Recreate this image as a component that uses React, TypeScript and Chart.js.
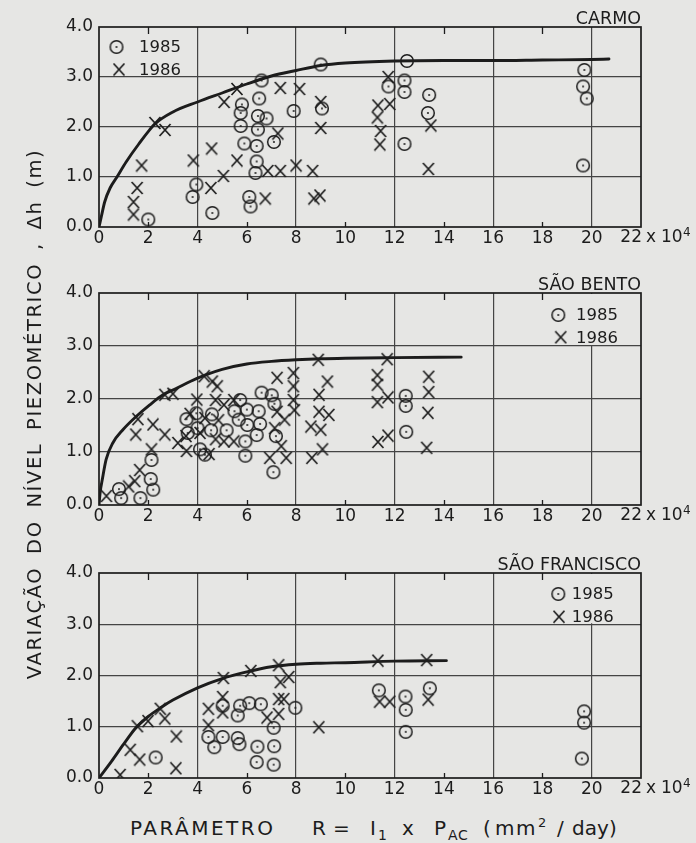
import React, { useEffect, useRef } from 'react';
import { Chart, registerables } from 'chart.js';

Chart.register(...registerables);

type Pt = [number, number];

// ---------- tick labels ----------
const X_TICK_LABELS = ['0', '2', '4', '6', '8', '10', '12', '14', '16', '18', '20', '22'];
const Y_TICK_LABELS = ['0.0', '1.0', '2.0', '3.0', '4.0'];
const X_MINOR_TICKS = [2, 6, 10, 14, 18];
const X_GRID_VALUES = [4, 8, 12, 16, 20];
const SERIES_NAMES = ['1985', '1986'];
const PANEL_TITLES = ['CARMO', 'SÃO BENTO', 'SÃO FRANCISCO'];

// ---------- CARMO ----------
const carmo1985: Pt[] = [
  [2.0, 0.15], [3.8, 0.6], [3.95, 0.85], [4.6, 0.28], [5.8, 2.45], [5.75, 2.28], [5.75, 2.02],
  [5.9, 1.67], [6.6, 2.93], [6.5, 2.57], [6.45, 2.22], [6.8, 2.17], [6.45, 1.95], [6.4, 1.62],
  [6.4, 1.31], [6.35, 1.08], [7.1, 1.7], [7.9, 2.32], [6.1, 0.6], [6.15, 0.41], [9.0, 3.25],
  [9.05, 2.37], [12.5, 3.32], [12.4, 2.93], [11.75, 2.81], [12.4, 2.7], [13.4, 2.64],
  [13.35, 2.28], [12.4, 1.66], [19.7, 3.14], [19.65, 2.81], [19.8, 2.57], [19.65, 1.23],
];
const carmo1986: Pt[] = [
  [1.4, 0.25], [1.4, 0.5], [1.55, 0.78], [1.73, 1.23], [2.27, 2.08], [2.68, 1.94], [3.83, 1.33],
  [4.57, 1.57], [4.54, 0.78], [5.05, 1.02], [5.08, 2.5], [5.6, 2.76], [5.6, 1.33], [7.36, 2.78],
  [8.14, 2.76], [7.26, 1.87], [6.75, 0.57], [6.85, 1.12], [7.36, 1.12], [8.0, 1.23], [8.67, 1.12],
  [8.72, 0.57], [8.97, 0.63], [9.0, 2.5], [9.0, 1.98], [11.74, 3.0], [11.8, 2.46], [11.32, 2.43],
  [11.3, 2.19], [11.43, 1.92], [11.4, 1.65], [13.47, 2.03], [13.37, 1.16],
];
const carmoCurve: Pt[] = [
  [0, 0], [0.1, 0.22], [0.23, 0.5], [0.45, 0.78], [0.73, 1.0], [1.1, 1.3], [1.6, 1.65],
  [2.27, 2.06], [3, 2.3], [4, 2.5], [5, 2.68], [6, 2.86], [7, 3.02], [8, 3.13], [9, 3.23],
  [10, 3.28], [12, 3.32], [14, 3.33], [16, 3.33], [18, 3.34], [20, 3.35], [20.7, 3.36],
];

// ---------- SÃO BENTO ----------
const bento1985: Pt[] = [
  [0.81, 0.3], [0.9, 0.13], [1.68, 0.13], [2.1, 0.49], [2.2, 0.29], [2.13, 0.85], [3.55, 1.62],
  [3.6, 1.36], [3.95, 1.73], [4.0, 1.45], [4.1, 1.05], [4.3, 0.95], [4.58, 1.71], [4.55, 1.41],
  [5.18, 1.41], [5.5, 1.77], [5.73, 1.98], [5.67, 1.61], [6.0, 1.8], [6.02, 1.51], [5.94, 1.2],
  [5.94, 0.93], [6.48, 1.77], [6.4, 1.32], [6.6, 2.12], [6.54, 1.53], [7.01, 2.07], [7.12, 1.91],
  [7.18, 1.3], [7.08, 0.62], [12.45, 2.06], [12.45, 1.87], [12.47, 1.38],
];
const bento1986: Pt[] = [
  [0.3, 0.17], [1.2, 0.35], [1.45, 0.45], [1.65, 0.66], [2.13, 1.05], [1.58, 1.62], [1.49, 1.33],
  [2.19, 1.52], [2.67, 1.33], [2.67, 2.08], [3.0, 2.1], [3.2, 1.17], [3.55, 1.02], [3.7, 1.72],
  [3.97, 1.99], [3.53, 1.3], [4.27, 2.43], [4.6, 2.33], [4.8, 2.24], [4.73, 1.98], [5.07, 1.89],
  [5.47, 1.98], [4.1, 1.36], [4.47, 0.96], [4.73, 1.24], [5.07, 1.2], [5.47, 1.2], [4.3, 1.64],
  [4.85, 1.6], [7.23, 2.4], [7.89, 2.49], [7.89, 2.24], [7.89, 1.98], [7.93, 1.79], [7.53, 1.61],
  [7.23, 1.76], [7.13, 1.45], [7.4, 1.11], [6.93, 0.89], [7.6, 0.89], [8.9, 2.74], [9.27, 2.33],
  [8.93, 2.08], [8.93, 1.76], [9.33, 1.7], [8.6, 1.48], [9.0, 1.42], [9.07, 1.05], [8.64, 0.89],
  [11.7, 2.75], [11.3, 2.45], [11.3, 2.27], [11.3, 1.94], [11.73, 2.03], [11.32, 1.19],
  [11.73, 1.31], [13.38, 2.42], [13.38, 2.13], [13.35, 1.74], [13.3, 1.08],
];
const bentoCurve: Pt[] = [
  [0, 0], [0.05, 0.25], [0.13, 0.47], [0.29, 0.86], [0.56, 1.17], [0.97, 1.42], [1.51, 1.67],
  [2.06, 1.89], [2.6, 2.08], [3.15, 2.2], [3.7, 2.33], [4.3, 2.45], [5, 2.56], [6, 2.66],
  [7, 2.71], [8, 2.74], [9, 2.76], [10, 2.77], [12, 2.78], [14.7, 2.79],
];

// ---------- SÃO FRANCISCO ----------
const franc1985: Pt[] = [
  [2.3, 0.4], [4.44, 0.8], [4.68, 0.6], [5.02, 0.8], [5.02, 1.41], [5.63, 0.78], [5.7, 0.66],
  [5.63, 1.22], [5.73, 1.41], [6.1, 1.46], [6.57, 1.44], [6.43, 0.61], [6.4, 0.31], [7.09, 0.98],
  [7.11, 0.62], [7.09, 0.26], [7.97, 1.37], [11.36, 1.71], [12.44, 1.59], [12.45, 1.33],
  [12.45, 0.9], [13.43, 1.75], [19.69, 1.3], [19.69, 1.08], [19.6, 0.38],
];
const franc1986: Pt[] = [
  [0.86, 0.06], [1.27, 0.55], [1.65, 0.36], [1.56, 1.01], [1.99, 1.11], [2.49, 1.35], [2.67, 1.16],
  [3.14, 0.81], [3.12, 0.19], [4.44, 1.35], [4.44, 1.03], [5.02, 1.58], [5.02, 1.28], [5.05, 1.95],
  [6.16, 2.09], [7.29, 2.2], [7.36, 1.87], [7.7, 1.97], [6.82, 1.18], [7.29, 1.54], [7.5, 1.54],
  [7.29, 1.25], [8.92, 0.99], [11.32, 2.29], [13.3, 2.3], [11.39, 1.49], [11.8, 1.49], [13.36, 1.53],
];
const francCurve: Pt[] = [
  [0, 0], [0.5, 0.32], [1, 0.66], [1.5, 0.98], [2, 1.2], [2.53, 1.38], [3, 1.52], [4, 1.76],
  [5, 1.94], [6, 2.07], [7, 2.17], [8, 2.22], [9, 2.24], [10, 2.25], [12, 2.28], [14.1, 2.29],
];

// ---------- styling / layout ----------
const FONT = '"DejaVu Sans", "Liberation Sans", sans-serif';
const INK = '#1c1c1c';
const GRID = '#444444';
const PAPER = '#e6e6e4';
const W = 696;
const AREA_LEFT = 99;
const AREA_RIGHT = 641;

type Legend = { anchor: 'left' | 'right'; c: [number, number]; x: [number, number]; tx: number };

const PANELS = [
  {
    title: PANEL_TITLES[0], s85: carmo1985, s86: carmo1986, curve: carmoCurve,
    canvasTop: 0, areaTop: 27, areaBottom: 227, height: 252, box: false,
    legend: { anchor: 'left', c: [17.5, 20], x: [20, 42.5], tx: 40 } as Legend,
  },
  {
    title: PANEL_TITLES[1], s85: bento1985, s86: bento1986, curve: bentoCurve,
    canvasTop: 262, areaTop: 293, areaBottom: 505, height: 270, box: true,
    legend: { anchor: 'right', c: [-82.7, 22], x: [-80.3, 44.3], tx: -65 } as Legend,
  },
  {
    title: PANEL_TITLES[2], s85: franc1985, s86: franc1986, curve: francCurve,
    canvasTop: 542, areaTop: 573, areaBottom: 778, height: 262, box: true,
    legend: { anchor: 'right', c: [-82.7, 21], x: [-82, 43.7], tx: -69.3 } as Legend,
  },
];

function makeCircle(): HTMLCanvasElement {
  const c = document.createElement('canvas');
  c.width = 16; c.height = 16;
  const g = c.getContext('2d')!;
  g.strokeStyle = INK; g.fillStyle = INK; g.lineWidth = 1.5;
  g.beginPath(); g.arc(8, 8, 6.3, 0, Math.PI * 2); g.stroke();
  g.beginPath(); g.arc(8, 8, 1, 0, Math.PI * 2); g.fill();
  return c;
}
function makeCross(): HTMLCanvasElement {
  const c = document.createElement('canvas');
  c.width = 14; c.height = 14;
  const g = c.getContext('2d')!;
  g.strokeStyle = INK; g.lineWidth = 1.7; g.lineCap = 'butt';
  g.beginPath();
  g.moveTo(1.5, 1); g.lineTo(12.5, 13);
  g.moveTo(12.5, 1); g.lineTo(1.5, 13);
  g.stroke();
  return c;
}

const decoPlugin = {
  id: 'panelDeco',
  beforeDatasetsDraw(chart: any, _a: any, o: any) {
    if (!o.box) return;
    const { ctx, chartArea: a, scales } = chart;
    const x0 = scales.x.getPixelForValue(18) + 3;
    const y1 = scales.y.getPixelForValue(3) - 1;
    ctx.save();
    ctx.fillStyle = PAPER;
    ctx.fillRect(x0, a.top + 1, a.right - 1 - x0, y1 - a.top - 1);
    ctx.restore();
  },
  afterDraw(chart: any, _a: any, o: any) {
    const { ctx, chartArea: a, scales } = chart;
    const sx = scales.x;
    ctx.save();
    // frame
    ctx.strokeStyle = INK;
    ctx.lineWidth = 1.7;
    ctx.strokeRect(a.left, a.top, a.right - a.left, a.bottom - a.top);
    // inner minor ticks
    ctx.lineWidth = 1.3;
    for (const v of X_MINOR_TICKS) {
      const px = Math.round(sx.getPixelForValue(v)) + 0.5;
      ctx.beginPath();
      ctx.moveTo(px, a.top); ctx.lineTo(px, a.top + 7);
      ctx.moveTo(px, a.bottom); ctx.lineTo(px, a.bottom - 5);
      ctx.stroke();
    }
    ctx.fillStyle = INK;
    // title
    ctx.font = `17.5px ${FONT}`;
    ctx.textAlign = 'right';
    ctx.textBaseline = 'alphabetic';
    ctx.fillText(o.title, a.right, a.top - 3);
    // legend
    const L: Legend = o.legend;
    const bx = L.anchor === 'left' ? a.left : a.right;
    const ci: HTMLCanvasElement = o.circle;
    const xi: HTMLCanvasElement = o.cross;
    ctx.drawImage(ci, bx + L.c[0] - ci.width / 2, a.top + L.c[1] - ci.height / 2);
    ctx.drawImage(xi, bx + L.x[0] - xi.width / 2, a.top + L.x[1] - xi.height / 2);
    ctx.font = `16.5px ${FONT}`;
    ctx.textAlign = 'left';
    ctx.textBaseline = 'middle';
    ctx.fillText(SERIES_NAMES[0], bx + L.tx, a.top + L.c[1] + 1);
    ctx.fillText(SERIES_NAMES[1], bx + L.tx, a.top + L.x[1] + 1);
    // last x label "22 x 10^4"
    const p22 = sx.getPixelForValue(22);
    const ty = a.bottom + 11;
    ctx.font = `17px ${FONT}`;
    ctx.textAlign = 'right';
    ctx.fillText(X_TICK_LABELS[X_TICK_LABELS.length - 1], p22 + 1, ty);
    ctx.textAlign = 'left';
    ctx.fillText('x', p22 + 5, ty);
    ctx.fillText('10', p22 + 20, ty);
    ctx.font = `12px ${FONT}`;
    ctx.fillText('4', p22 + 42, ty - 5);
    ctx.restore();
  },
};

function Panel({ p }: { p: (typeof PANELS)[number] }) {
  const ref = useRef<HTMLCanvasElement | null>(null);
  useEffect(() => {
    const canvas = ref.current!;
    const circle = makeCircle();
    const cross = makeCross();
    const padTop = p.areaTop - p.canvasTop;
    const xh = p.height - (p.areaBottom - p.canvasTop);
    const chart = new Chart(canvas, {
      type: 'scatter',
      data: {
        datasets: [
          {
            label: 'curve',
            data: p.curve.map(([x, y]) => ({ x, y })),
            showLine: true,
            borderColor: INK,
            borderWidth: 2.9,
            borderCapStyle: 'round',
            pointRadius: 0,
            cubicInterpolationMode: 'monotone',
          } as any,
          {
            label: SERIES_NAMES[0],
            data: p.s85.map(([x, y]) => ({ x, y })),
            pointStyle: circle as any,
            pointRadius: 7,
            pointHoverRadius: 7,
          },
          {
            label: SERIES_NAMES[1],
            data: p.s86.map(([x, y]) => ({ x, y })),
            pointStyle: cross as any,
            pointRadius: 7,
            pointHoverRadius: 7,
          },
        ],
      },
      options: {
        animation: false,
        responsive: false,
        devicePixelRatio: 1,
        events: [],
        layout: { padding: { top: padTop, right: W - AREA_RIGHT, bottom: 0, left: 0 } },
        plugins: {
          legend: { display: false },
          tooltip: { enabled: false },
          panelDeco: { title: p.title, legend: p.legend, box: p.box, circle, cross },
        } as any,
        scales: {
          x: {
            type: 'linear',
            min: 0,
            max: 22,
            afterFit: (s: any) => { s.height = xh; },
            ticks: {
              stepSize: 2,
              autoSkip: false,
              maxRotation: 0,
              padding: 1,
              color: INK,
              font: { family: FONT, size: 17 },
              callback: (v: any, i: number) => (Number(v) === 22 ? '' : X_TICK_LABELS[i]),
            },
            grid: {
              drawTicks: false,
              lineWidth: 1.2,
              color: (c: any) =>
                c.tick && X_GRID_VALUES.includes(c.tick.value) ? GRID : 'rgba(0,0,0,0)',
            },
            border: { display: false },
          },
          y: {
            type: 'linear',
            min: 0,
            max: 4,
            afterFit: (s: any) => { s.width = AREA_LEFT; },
            ticks: {
              stepSize: 1,
              padding: 6,
              color: INK,
              font: { family: FONT, size: 17 },
              callback: (_v: any, i: number) => Y_TICK_LABELS[i],
            },
            grid: {
              drawTicks: false,
              lineWidth: 1.2,
              color: (c: any) =>
                c.tick && c.tick.value > 0 && c.tick.value < 4 ? GRID : 'rgba(0,0,0,0)',
            },
            border: { display: false },
          },
        },
      },
      plugins: [decoPlugin as any],
    });
    return () => chart.destroy();
  }, [p]);
  return (
    <canvas
      ref={ref}
      width={W}
      height={p.height}
      style={{ position: 'absolute', left: 0, top: p.canvasTop, width: W, height: p.height }}
    />
  );
}

const X_TITLE: { t: string; x: number; ls?: number; sub?: string; sup?: string }[] = [
  { t: 'PARÂMETRO', x: 130, ls: 2.5 },
  { t: 'R', x: 312 },
  { t: '=', x: 333 },
  { t: 'I', x: 370, sub: '1' },
  { t: 'x', x: 402 },
  { t: 'P', x: 434, sub: 'AC' },
  { t: '(', x: 483 },
  { t: 'mm', x: 495, ls: 1.5, sup: '2' },
  { t: '/', x: 557 },
  { t: 'day', x: 572 },
  { t: ')', x: 609 },
];

export default function App() {
  return (
    <div
      style={{
        position: 'fixed', left: 0, top: 0, width: W, height: 843, background: PAPER,
        overflow: 'hidden', fontFamily: FONT, color: INK,
      }}
    >
      {PANELS.map((p, i) => (
        <Panel key={i} p={p} />
      ))}
      <div
        style={{
          position: 'absolute', left: 35 - 300, top: 414 - 10, width: 600, height: 20,
          lineHeight: '20px', fontSize: 19.5, textAlign: 'center', whiteSpace: 'nowrap',
          transform: 'rotate(-90deg)', transformOrigin: '50% 50%',
          letterSpacing: '1.6px', wordSpacing: '5px',
        }}
      >
        VARIAÇÃO DO NÍVEL PIEZOMÉTRICO , Δh (m)
      </div>
      {X_TITLE.map((c, i) => (
        <span
          key={i}
          style={{
            position: 'absolute', left: c.x, top: 818, fontSize: 20, lineHeight: '20px',
            whiteSpace: 'nowrap', letterSpacing: c.ls ? `${c.ls}px` : undefined,
          }}
        >
          {c.t}
          {c.sub && (
            <span style={{ fontSize: 14, position: 'relative', top: 5, marginLeft: 2, letterSpacing: '0.5px' }}>
              {c.sub}
            </span>
          )}
          {c.sup && (
            <span style={{ fontSize: 13, position: 'relative', top: -8, marginLeft: 1 }}>{c.sup}</span>
          )}
        </span>
      ))}
    </div>
  );
}
